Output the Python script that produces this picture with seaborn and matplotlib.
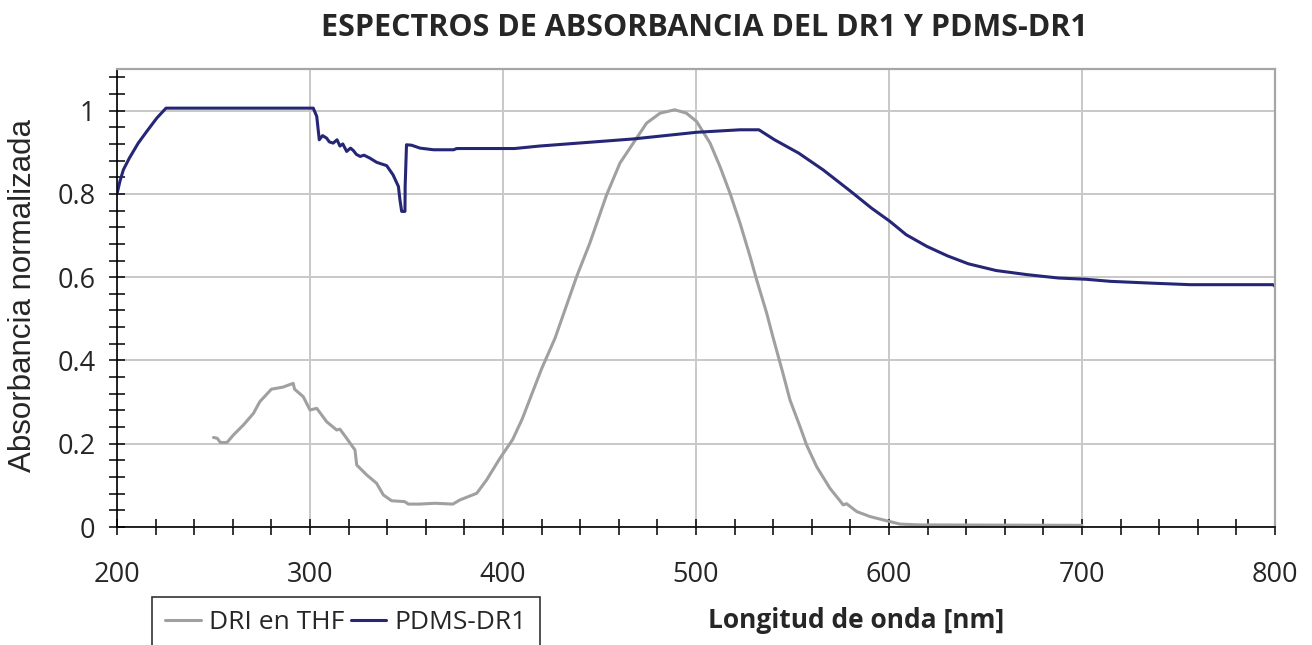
import pandas as pd
import matplotlib
matplotlib.use("Agg")
import matplotlib.pyplot as plt
import seaborn as sns
from matplotlib.ticker import MultipleLocator

# --- datos ---
dr1_nm = [250, 252, 253.5, 257, 260.3, 265.5, 270.7, 274, 280, 286, 291.3, 292,
          296.5, 300, 303.5, 308.6, 313.8, 315.5, 319, 323.3, 324.2, 329.4, 334.5,
          338, 342.3, 349, 351, 356.4, 365, 374, 377.7, 386.4, 391.5, 398.4, 405,
          410, 415, 420, 427, 438.2, 445, 453.7, 460.6, 467.5, 474.4, 481.4, 489,
          495, 500.3, 507.3, 512.4, 517.6, 522.8, 528, 531.4, 536.6, 540, 545,
          548.7, 553.9, 557.3, 562.5, 569.4, 576.3, 578, 583.3, 590.2, 598.8,
          605.7, 616, 700]
dr1_abs = [0.215, 0.213, 0.203, 0.203, 0.221, 0.245, 0.273, 0.301, 0.331, 0.336,
           0.345, 0.331, 0.313, 0.281, 0.285, 0.253, 0.233, 0.235, 0.213, 0.185,
           0.149, 0.125, 0.105, 0.077, 0.063, 0.061, 0.055, 0.055, 0.057, 0.055,
           0.065, 0.081, 0.113, 0.165, 0.21, 0.26, 0.32, 0.38, 0.454, 0.602, 0.682,
           0.798, 0.874, 0.922, 0.970, 0.994, 1.002, 0.994, 0.974, 0.922, 0.866,
           0.802, 0.730, 0.650, 0.594, 0.514, 0.454, 0.37, 0.305, 0.241, 0.197,
           0.145, 0.093, 0.053, 0.056, 0.037, 0.025, 0.015, 0.007, 0.005, 0.004]

pdms_nm = [200, 201.5, 203.3, 206.4, 211, 215.4, 220.6, 225.4, 301.7, 303.5, 304.8,
           306.5, 308.6, 310, 312, 314, 315.5, 317, 319, 321, 322.5, 324, 326, 328,
           331, 334.5, 337, 339.7, 343, 345.8, 346.6, 347.5, 349.2, 349.3, 350,
           352.6, 357, 364, 374.4, 376, 406, 419, 467.5, 500.3, 522.8, 532.6, 540.7,
           553.2, 565.8, 580.2, 590.9, 600.5, 608.9, 619.6, 630.4, 641.2, 655.5,
           671.7, 687.8, 702, 714.7, 734.4, 756, 799, 800]
pdms_abs = [0.80, 0.83, 0.858, 0.886, 0.922, 0.950, 0.982, 1.006, 1.006, 0.986,
            0.930, 0.94, 0.934, 0.925, 0.922, 0.93, 0.915, 0.92, 0.902, 0.91, 0.904,
            0.895, 0.890, 0.893, 0.886, 0.876, 0.872, 0.868, 0.846, 0.818, 0.786,
            0.758, 0.758, 0.818, 0.918, 0.917, 0.910, 0.906, 0.906, 0.909, 0.909,
            0.915, 0.932, 0.948, 0.954, 0.954, 0.930, 0.898, 0.858, 0.806, 0.766,
            0.734, 0.702, 0.674, 0.651, 0.632, 0.616, 0.606, 0.598, 0.595, 0.590,
            0.586, 0.582, 0.582, 0.578]

sns.set_style("white")
plt.rcParams['font.family'] = ['Open Sans', 'DejaVu Sans']

fig = plt.figure(figsize=(13.12, 6.45), dpi=100)
ax = fig.add_axes([117 / 1312, 1 - 527 / 645, (1275 - 117) / 1312, (527 - 69) / 645])

sns.lineplot(x=dr1_nm, y=dr1_abs, ax=ax, color="#a0a0a0", linewidth=2.2,
             sort=False, label="DRI en THF")
sns.lineplot(x=pdms_nm, y=pdms_abs, ax=ax, color="#262676", linewidth=2.2,
             sort=False, label="PDMS-DR1")

ax.set_xlim(200, 800)
ax.set_ylim(0, 1.1)
ax.xaxis.set_major_locator(MultipleLocator(100))
ax.xaxis.set_minor_locator(MultipleLocator(20))
ax.yaxis.set_minor_locator(MultipleLocator(0.04))
ax.set_yticks([0, 0.2, 0.4, 0.6, 0.8, 1.0])
ax.set_yticklabels(["0", "0.2", "0.4", "0.6", "0.8", "1"])

ax.grid(True, which="major", color="#c8c8c8", linewidth=1.4)
ax.set_axisbelow(True)
for s in ["top", "right"]:
    ax.spines[s].set_color("#a6a6a6")
    ax.spines[s].set_linewidth(1.6)
for s in ["left", "bottom"]:
    ax.spines[s].set_color("black")
    ax.spines[s].set_linewidth(1.2)

ax.tick_params(which="both", direction="inout", length=11, width=1.1,
               color="black", left=True, bottom=True)
ax.tick_params(axis="x", which="major", labelsize=19.5, pad=19)
ax.tick_params(axis="y", which="major", labelsize=19.5, pad=10)

ax.set_ylabel("Absorbancia normalizada", fontsize=22.5, family=["Liberation Sans", "DejaVu Sans"])
ax.yaxis.set_label_coords(-(117 - 38) / (1275 - 117), 0.505)
ax.set_xlabel("")

fig.text(704 / 1312, 1 - 28 / 645, "ESPECTROS DE ABSORBANCIA DEL DR1 Y PDMS-DR1",
         ha="center", va="center", fontsize=22, fontweight="bold")
fig.text(856 / 1312, 1 - 621 / 645, "Longitud de onda [nm]",
         ha="center", va="center", fontsize=19, fontweight="bold")

ax.get_legend().remove()
handles, labels = ax.get_legend_handles_labels()
leg = fig.legend(handles, labels, loc="upper left", bbox_to_anchor=(152 / 1312, 1 - 597 / 645),
                 ncol=2, fontsize=19, frameon=True, fancybox=False, handlelength=1.35,
                 handletextpad=0.3, columnspacing=0.25, borderpad=0.5, borderaxespad=0)
leg.get_frame().set_edgecolor("black")
leg.get_frame().set_linewidth(1.2)

fig.savefig("out.png", dpi=100)
